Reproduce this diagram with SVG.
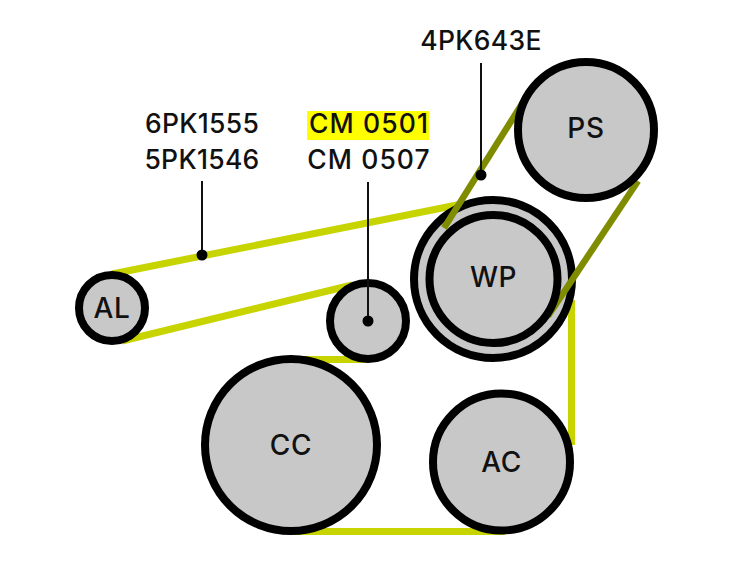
<svg xmlns="http://www.w3.org/2000/svg" width="730" height="563" viewBox="0 0 730 563">
<style>
text{font-family:Inter,"Liberation Sans",sans-serif;fill:#111;font-weight:500}
.lab{font-size:26.500px;text-anchor:middle;letter-spacing:.3px}
.cm{letter-spacing:1.100px}
.n{font-size:28px;text-anchor:middle;letter-spacing:.6px}
.p{fill:#c8c8c8;stroke:#000;stroke-width:8}
.by{fill:none;stroke:#c8d400;stroke-width:7}
.bo{fill:none;stroke:#808c00;stroke-width:6.500}
.ld{fill:none;stroke:#111;stroke-width:2}
.dot{fill:#000}
</style>
<rect width="730" height="563" fill="#fff"/>
<g id="connectors">
<path class="by" d="M112 274L462 204"/>
<path class="by" d="M122 341L352 285"/>
<path class="by" d="M295 359.500H366"/>
<path class="by" d="M295 531.500H505"/>
<path class="by" d="M571.500 300V445"/>
</g>
<g id="AL"><circle class="p" cx="112" cy="308" r="33"/><text class="n" x="112" y="318">AL</text></g>
<g id="CM"><circle class="p" cx="368" cy="321" r="38"/></g>
<g id="CC"><circle class="p" cx="291" cy="445" r="86"/><text class="n" x="291" y="455">CC</text></g>
<g id="AC"><circle class="p" cx="501.500" cy="462" r="68.500"/><text class="n" x="501.500" y="472">AC</text></g>
<g id="WP"><circle class="p" cx="493" cy="279" r="79"/>
<path class="bo" d="M530 91L444 228"/>
<path class="bo" d="M638 181L548 316"/>
<circle class="p" cx="493.500" cy="279" r="64"/><text class="n" x="493.500" y="287">WP</text></g>
<g id="PS"><circle class="p" cx="586" cy="130" r="68"/><text class="n" x="586" y="138">PS</text></g>
<g id="leaders">
<path class="ld" d="M202 181V255"/><circle class="dot" cx="202" cy="255" r="5.500"/>
<path class="ld" d="M368 182V321"/><circle class="dot" cx="368" cy="321" r="5.500"/>
<path class="ld" d="M481 63V175"/><circle class="dot" cx="481" cy="175" r="5.500"/>
</g>
<g id="labels">
<rect x="307" y="111" width="122" height="29" fill="#ffff00"/>
<text class="lab" x="202" y="133">6PK1555</text>
<text class="lab" x="202" y="169">5PK1546</text>
<text class="lab cm" x="369" y="133">CM 0501</text>
<text class="lab cm" x="369" y="169">CM 0507</text>
<text class="lab" x="481" y="50">4PK643E</text>
</g>
</svg>
